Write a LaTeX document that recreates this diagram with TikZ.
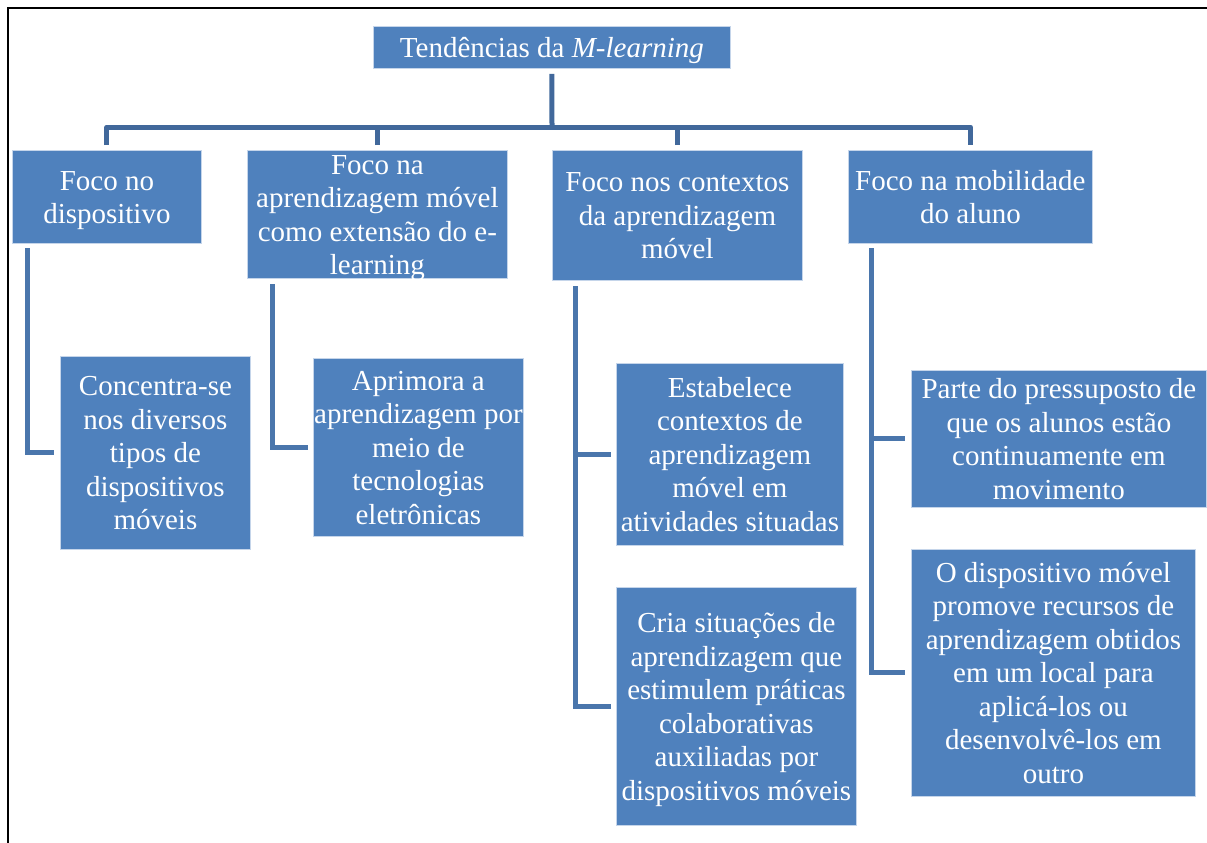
\documentclass[tikz,border=0pt]{standalone}
\usepackage{fontspec}
\setmainfont{Liberation Serif}
\newcommand{\sx}{\rule[-6.75pt]{0pt}{33.5pt}}
\definecolor{boxblue}{HTML}{4F81BD}
\definecolor{boxedge}{HTML}{C5D5EA}
\definecolor{linkA}{HTML}{41689B}
\definecolor{linkB}{HTML}{4A76AC}
\tikzset{
  box/.style={fill=boxblue, draw=boxedge, line width=0.8pt, inner sep=0pt, anchor=north west},
  txt/.style={text=white, align=center, inner sep=0pt, font=\fontsize{29}{33.5}\selectfont},
  linkT/.style={draw=linkA, line width=5pt, line join=round},
  linkS/.style={draw=linkB, line width=5pt},
}
\begin{document}
\begin{tikzpicture}[x=1pt,y=-1pt]
\useasboundingbox (0,0) rectangle (1207,843);
% frame
\draw[line width=2pt] (8,843) -- (8,8) -- (1207,8);

% root
\node[box, minimum width=357pt, minimum height=42pt] (top) at (373,26) {};
\node[txt] (topt) at (top.center) {\sx Tendências da \textit{M-learning}};

% level 1
\node[box, minimum width=189pt, minimum height=93pt] (f1) at (12,150) {};
\node[txt] (f1t) at (f1.center) {\sx Foco no\\\sx dispositivo};
\node[box, minimum width=260pt, minimum height=128pt] (f2) at (247,150) {};
\begin{scope}
\clip (f2.south west) rectangle (f2.north east);
\node[txt] (f2t) at (f2.center) {\sx Foco na\\\sx aprendizagem móvel\\\sx como extensão do e-\\\sx learning};
\end{scope}
\node[box, minimum width=250pt, minimum height=130pt] (f3) at (552,150) {};
\node[txt] (f3t) at (f3.center) {\sx Foco nos contextos\\\sx da aprendizagem\\\sx móvel};
\node[box, minimum width=244pt, minimum height=93pt] (f4) at (848,150) {};
\node[txt] (f4t) at (f4.center) {\sx Foco na mobilidade\\\sx do aluno};

% level 2
\node[box, minimum width=190pt, minimum height=193pt] (c1) at (60,356) {};
\node[txt] (c1t) at (c1.center) {\sx Concentra-se\\\sx nos diversos\\\sx tipos de\\\sx dispositivos\\\sx móveis};
\node[box, minimum width=210pt, minimum height=178pt] (c2) at (313,358) {};
\node[txt] (c2t) at (c2.center) {\sx Aprimora a\\\sx aprendizagem por\\\sx meio de\\\sx tecnologias\\\sx eletrônicas};
\node[box, minimum width=227pt, minimum height=182pt] (c3a) at (616,363) {};
\node[txt] (c3at) at (c3a.center) {\sx Estabelece\\\sx contextos de\\\sx aprendizagem\\\sx móvel em\\\sx atividades situadas};
\node[box, minimum width=240pt, minimum height=238pt] (c3b) at (616,587) {};
\node[txt] (c3bt) at (c3b.center) {\sx Cria situações de\\\sx aprendizagem que\\\sx estimulem práticas\\\sx colaborativas\\\sx auxiliadas por\\\sx dispositivos móveis};
\node[box, minimum width=295pt, minimum height=137pt] (c4a) at (911,370) {};
\node[txt] (c4at) at (c4a.center) {\sx Parte do pressuposto de\\\sx que os alunos estão\\\sx continuamente em\\\sx movimento};
\node[box, minimum width=284pt, minimum height=247pt] (c4b) at (911,549) {};
\node[txt] (c4bt) at (c4b.center) {\sx O dispositivo móvel\\\sx promove recursos de\\\sx aprendizagem obtidos\\\sx em um local para\\\sx aplicá-los ou\\\sx desenvolvê-los em\\\sx outro};

% top connectors
\coordinate (tj) at (552,127);
\draw[linkT] ([yshift=-5pt]top.south) -- (tj);
\draw[linkT] ([yshift=5pt]f1.north) |- (tj) -| ([yshift=5pt]f4.north);
\draw[linkT] ([yshift=5pt]f2.north) -- (f2.north |- tj);
\draw[linkT] ([yshift=5pt]f3.north) -- (f3.north |- tj);

% level-2 connectors
\coordinate (s1) at (27,248);
\coordinate (s2) at (272,284);
\coordinate (s3) at (575,286);
\coordinate (s4) at (871,248);
\draw[linkS] (s1) |- ([xshift=-6pt]c1.west);
\draw[linkS] (s2) |- ([xshift=-5pt]c2.west);
\draw[linkS] (s3) |- ([xshift=-5pt]c3b.west);
\draw[linkS] (s3 |- c3a.west) -- ([xshift=-5pt]c3a.west);
\draw[linkS] (s4) |- ([xshift=-6pt]c4b.west);
\draw[linkS] (s4 |- c4a.west) -- ([xshift=-6pt]c4a.west);
\end{tikzpicture}
\end{document}
